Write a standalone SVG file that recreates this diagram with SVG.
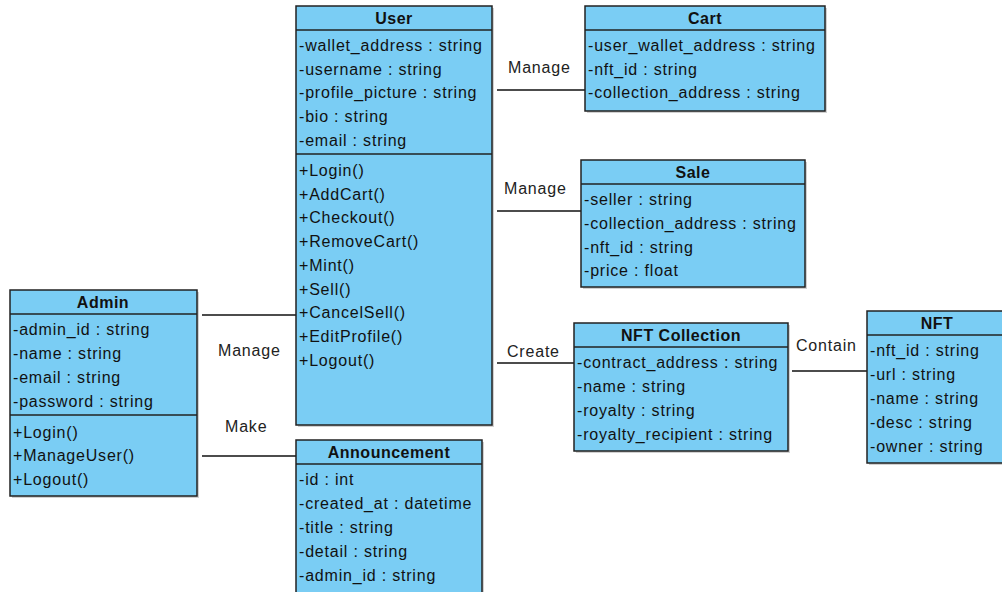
<svg xmlns="http://www.w3.org/2000/svg" width="1002" height="592" viewBox="0 0 1002 592">
<style>
.box{fill:#7ACDF4;stroke:#222;stroke-width:1.5}
.shadow{fill:#999;opacity:0.45}
.div{stroke:#222;stroke-width:1.5}
.t{font-family:"Liberation Sans",Arial,sans-serif;font-size:16px;letter-spacing:0.8px;fill:#111}
.h{font-family:"Liberation Sans",Arial,sans-serif;font-size:16px;font-weight:bold;letter-spacing:0.5px;fill:#111;text-anchor:middle}
.lbl{font-family:"Liberation Sans",Arial,sans-serif;font-size:16px;letter-spacing:0.8px;fill:#222}
.c{stroke:#111;stroke-width:1.5;fill:none}
</style>
<rect width="1002" height="592" fill="#fff"/>
<g id="connectors">
<line class="c" x1="497" y1="90" x2="585" y2="90"/>
<text class="lbl" x="508" y="73">Manage</text>
<line class="c" x1="497" y1="211" x2="581" y2="211"/>
<text class="lbl" x="504" y="194">Manage</text>
<line class="c" x1="497" y1="363" x2="574" y2="363"/>
<text class="lbl" x="507" y="357">Create</text>
<line class="c" x1="792" y1="371" x2="867" y2="371"/>
<text class="lbl" x="796" y="351">Contain</text>
<line class="c" x1="202" y1="315" x2="296" y2="315"/>
<text class="lbl" x="218" y="356">Manage</text>
<line class="c" x1="202" y1="456" x2="296" y2="456"/>
<text class="lbl" x="225" y="432">Make</text>
</g>
<g id="user">
<rect class="shadow" x="298" y="8" width="196" height="419"/>
<rect class="box" x="296" y="6" width="196" height="419"/>
<line class="div" x1="296" y1="30" x2="492" y2="30"/>
<line class="div" x1="296" y1="154" x2="492" y2="154"/>
<text class="h" x="394" y="24">User</text>
<text class="t" x="299" y="51">-wallet_address : string</text>
<text class="t" x="299" y="75">-username : string</text>
<text class="t" x="299" y="98">-profile_picture : string</text>
<text class="t" x="299" y="122">-bio : string</text>
<text class="t" x="299" y="146">-email : string</text>
<text class="t" x="299" y="176">+Login()</text>
<text class="t" x="299" y="200">+AddCart()</text>
<text class="t" x="299" y="223">+Checkout()</text>
<text class="t" x="299" y="247">+RemoveCart()</text>
<text class="t" x="299" y="271">+Mint()</text>
<text class="t" x="299" y="295">+Sell()</text>
<text class="t" x="299" y="318">+CancelSell()</text>
<text class="t" x="299" y="342">+EditProfile()</text>
<text class="t" x="299" y="366">+Logout()</text>
</g>
<g id="cart">
<rect class="shadow" x="587" y="8" width="240" height="105"/>
<rect class="box" x="585" y="6" width="240" height="105"/>
<line class="div" x1="585" y1="30" x2="825" y2="30"/>
<text class="h" x="705" y="24">Cart</text>
<text class="t" x="588" y="51">-user_wallet_address : string</text>
<text class="t" x="588" y="75">-nft_id : string</text>
<text class="t" x="588" y="98">-collection_address : string</text>
</g>
<g id="sale">
<rect class="shadow" x="583" y="162" width="224" height="127"/>
<rect class="box" x="581" y="160" width="224" height="127"/>
<line class="div" x1="581" y1="184" x2="805" y2="184"/>
<text class="h" x="693" y="178">Sale</text>
<text class="t" x="584" y="205">-seller : string</text>
<text class="t" x="584" y="229">-collection_address : string</text>
<text class="t" x="584" y="253">-nft_id : string</text>
<text class="t" x="584" y="276">-price : float</text>
</g>
<g id="nft-collection">
<rect class="shadow" x="576" y="325" width="214" height="128"/>
<rect class="box" x="574" y="323" width="214" height="128"/>
<line class="div" x1="574" y1="347" x2="788" y2="347"/>
<text class="h" x="681" y="341">NFT Collection</text>
<text class="t" x="577" y="368">-contract_address : string</text>
<text class="t" x="577" y="392">-name : string</text>
<text class="t" x="577" y="416">-royalty : string</text>
<text class="t" x="577" y="440">-royalty_recipient : string</text>
</g>
<g id="nft">
<rect class="shadow" x="869" y="313" width="140" height="152"/>
<rect class="box" x="867" y="311" width="140" height="152"/>
<line class="div" x1="867" y1="335" x2="1007" y2="335"/>
<text class="h" x="937" y="329">NFT</text>
<text class="t" x="870" y="356">-nft_id : string</text>
<text class="t" x="870" y="380">-url : string</text>
<text class="t" x="870" y="404">-name : string</text>
<text class="t" x="870" y="428">-desc : string</text>
<text class="t" x="870" y="452">-owner : string</text>
</g>
<g id="admin">
<rect class="shadow" x="12" y="292" width="187" height="206"/>
<rect class="box" x="10" y="290" width="187" height="206"/>
<line class="div" x1="10" y1="314" x2="197" y2="314"/>
<line class="div" x1="10" y1="415" x2="197" y2="415"/>
<text class="h" x="103" y="308">Admin</text>
<text class="t" x="13" y="335">-admin_id : string</text>
<text class="t" x="13" y="359">-name : string</text>
<text class="t" x="13" y="383">-email : string</text>
<text class="t" x="13" y="407">-password : string</text>
<text class="t" x="13" y="438">+Login()</text>
<text class="t" x="13" y="461">+ManageUser()</text>
<text class="t" x="13" y="485">+Logout()</text>
</g>
<g id="announcement">
<rect class="shadow" x="298" y="442" width="186" height="160"/>
<rect class="box" x="296" y="440" width="186" height="160"/>
<line class="div" x1="296" y1="464" x2="482" y2="464"/>
<text class="h" x="389" y="458">Announcement</text>
<text class="t" x="299" y="485">-id : int</text>
<text class="t" x="299" y="509">-created_at : datetime</text>
<text class="t" x="299" y="533">-title : string</text>
<text class="t" x="299" y="557">-detail : string</text>
<text class="t" x="299" y="581">-admin_id : string</text>
</g>
</svg>
